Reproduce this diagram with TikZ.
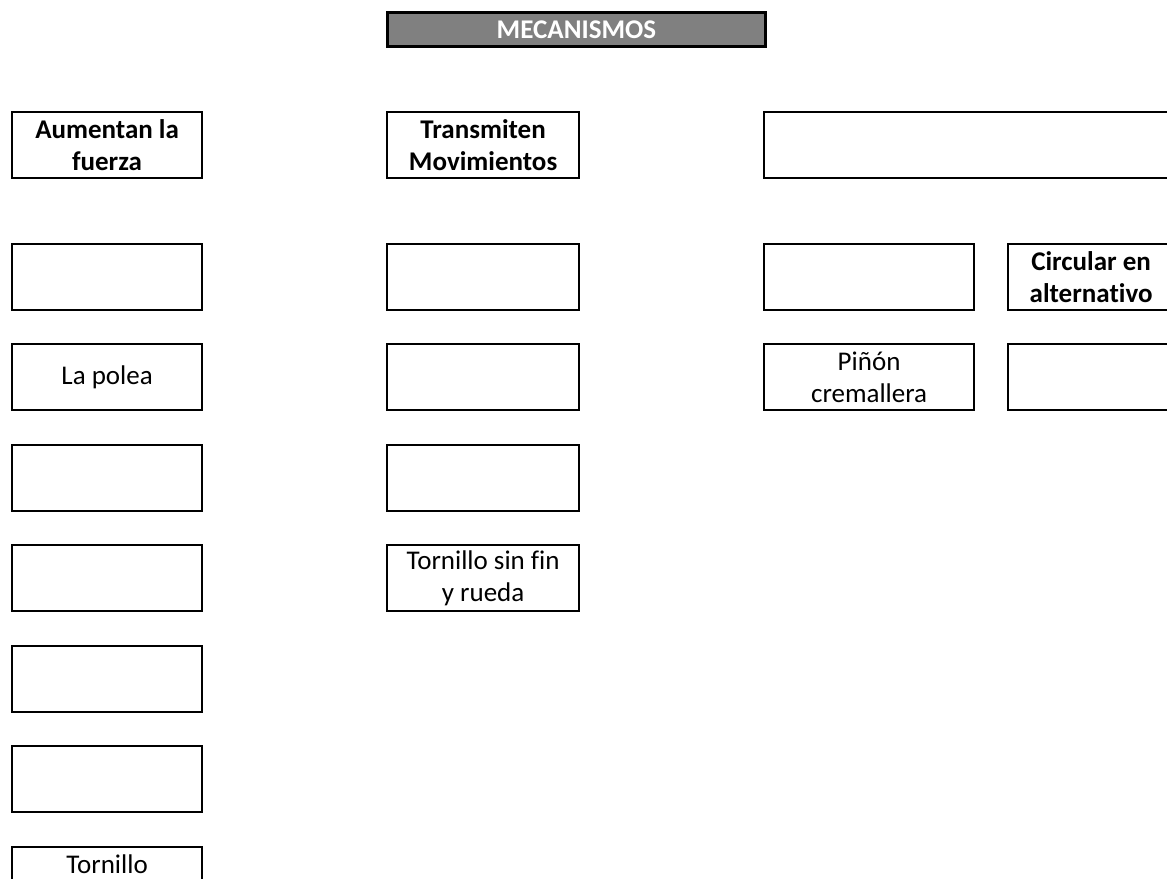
\documentclass[tikz,border=0pt]{standalone}
\usepackage{fontspec}
\setmainfont{Carlito}[Ligatures=NoCommon]
\begin{document}
\begin{tikzpicture}[x=0.5pt,y=-0.5pt,line join=miter,
	caja/.style={draw,line width=1.1pt,anchor=north west,inner sep=0pt,align=center,minimum height=33pt,font=\fontsize{13.5}{16}\selectfont},
	izq/.style={caja,minimum width=95pt},
	centro/.style={caja,minimum width=96pt},
	der/.style={caja,minimum width=105pt},
	titulo/.style={caja,line width=1.4pt,fill=black!50,text=white,minimum width=189pt,minimum height=17pt,font=\fontsize{13.5}{16}\selectfont\bfseries}]
	\useasboundingbox (0,0) rectangle (1167,878);
	\clip (0,0) rectangle (1167,878);
	\node[titulo] (mec) at (386,11) {MECANISMOS};
	% columna izquierda
	\node[izq] (fuerza) at (11,111) {\bfseries Aumentan la\\\bfseries fuerza};
	\node[izq] (izqA) at (11,243) {};
	\node[izq] (polea) at (11,343) {La polea};
	\node[izq] (izqB) at (11,444) {};
	\node[izq] (izqC) at (11,544) {};
	\node[izq] (izqD) at (11,645) {};
	\node[izq] (izqE) at (11,745) {};
	\node[izq] (tornillo) at (11,846) {Tornillo\\\phantom{x}};
	% columna central
	\node[centro] (transmiten) at (386,111) {\bfseries Transmiten\\\bfseries Movimientos};
	\node[centro] (cenA) at (386,243) {};
	\node[centro] (cenB) at (386,343) {};
	\node[centro] (cenC) at (386,444) {};
	\node[centro] (sinfin) at (386,544) {Tornillo sin fin\\y rueda};
	% columna derecha
	\node[caja,minimum width=205pt] (transforman) at (763,111) {};
	\node[der] (derA) at (763,243) {};
	\node[der] (pinon) at (763,343) {Piñón\\cremallera};
	\node[caja,minimum width=83pt] (circular) at (1007,243) {\bfseries Circular en\\\bfseries alternativo};
	\node[caja,minimum width=83pt] (derB) at (1007,343) {};
\end{tikzpicture}
\end{document}
